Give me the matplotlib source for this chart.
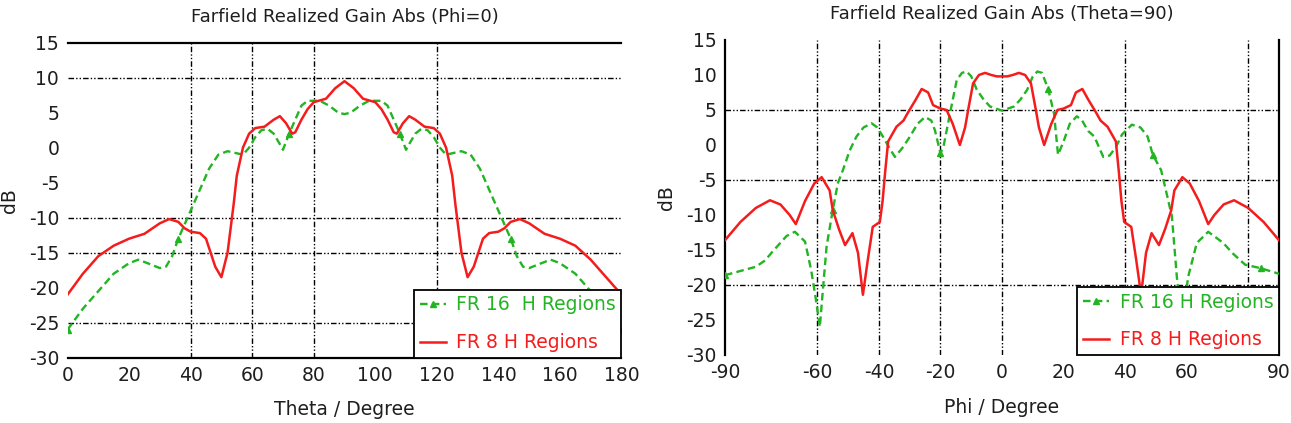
"""Farfield realized gain cuts: FR 16 vs FR 8 H regions (Phi=0 and Theta=90)."""

import numpy as np
import matplotlib

matplotlib.use("Agg")
import matplotlib.pyplot as plt  # noqa: E402

plt.rcParams["axes.unicode_minus"] = False

GREEN = "#22b422"
RED = "#f41c1c"
TEXT = "#1e1e1e"
GRID_DASH = (0, (4, 1.5, 1, 1.5, 1, 1.5))

# --- Phi=0 cut (theta sweep) ---
theta_fr16 = [0, 5, 10, 15, 20, 23, 26, 30, 32, 34, 36, 38, 40, 43, 46, 49, 52,
              55, 57, 59, 61, 63, 65, 67, 69, 70, 72, 74, 76, 78, 82, 85, 88, 90,
              92, 95, 98, 102, 104, 106, 108, 110, 111, 113, 115, 117, 119, 121,
              123, 125, 128, 131, 134, 137, 140, 142, 144, 146, 148, 150, 154,
              157, 160, 165, 170, 175, 180]
gain_fr16_phi0 = [-26, -23, -20.5, -18, -16.5, -16, -16.5, -17.2, -17, -15.5,
                  -13, -11, -9, -6, -3, -1, -0.5, -0.8, -1, 0, 1.5, 2.5, 2.7, 2,
                  0.5, -0.3, 2, 4, 6, 6.7, 6.7, 6, 5, 4.8,
                  5, 6, 6.7, 6.7, 6, 4, 2, -0.3, 0.5, 2, 2.7, 2.5, 1.5, 0,
                  -1, -0.8, -0.5, -1, -3, -6, -9, -11, -13, -15.5, -17, -17.2,
                  -16.5, -16, -16.5, -18, -20.5, -23, -26]
theta_fr16_markers = [0, 36, 72, 108, 144, 180]

theta_fr8 = [0, 5, 10, 15, 20, 25, 30, 33, 36, 38, 40, 43, 45, 48, 50, 52, 54,
             55, 57, 59, 61, 64, 67, 69, 71, 73, 74, 76, 78, 80, 84, 87, 90,
             93, 96, 100, 102, 104, 106, 107, 109, 111, 113, 116, 119, 121, 123,
             125, 126, 128, 130, 132, 135, 137, 140, 142, 144, 147, 150, 155,
             160, 165, 170, 175, 180]
gain_fr8_phi0 = [-21, -18, -15.5, -14, -13, -12.3, -10.8, -10.2, -10.6, -11.5,
                 -12, -12.2, -13, -17, -18.5, -15, -8, -4, 0, 2, 2.8, 3, 4, 4.5,
                 3.5, 2, 2.2, 4, 5.5, 6.5, 7, 8.5, 9.5,
                 8.5, 7, 6.5, 5.5, 4, 2.2, 2, 3.5, 4.5, 4, 3, 2.8, 2, 0,
                 -4, -8, -15, -18.5, -17, -13, -12.2, -12, -11.5, -10.6, -10.2,
                 -10.8, -12.3, -13, -14, -16, -18.5, -21]

# --- Theta=90 cut (phi sweep) ---
phi_fr16 = [-90, -85, -80, -77, -74.5, -70, -67.3, -64, -62, -60.5, -59.2,
            -58.2, -57, -55, -53.3, -51.7, -49.5, -47.3, -45, -42.4, -40.5,
            -38.7, -36.5, -34.8, -32.5, -29.9, -27.5, -25, -23, -21.8, -20,
            -19, -16.9, -14.7, -13, -11.5, -10, -8.2, -6, -3.9, 0,
            3.9, 6, 8.2, 10, 11.5, 13, 15, 16.9, 18.2, 20, 22, 24.3, 26, 28,
            30, 32.9, 35, 37, 39, 42.2, 45, 47.3, 49, 51.7, 53, 55.2, 56.8,
            58.5, 59.5, 60.5, 63.3, 67, 71.9, 75, 79, 84, 90]
gain_fr16_th90 = [-18.6, -18, -17.4, -16.5, -15.2, -13, -12.4, -13.8, -17.9,
                  -22, -26, -20.7, -14.5, -9.3, -5.4, -3.6, -0.8, 1.2, 2.5,
                  3.1, 2.5, 1.2, -0.5, -1.7, -0.5, 1.2, 3, 4, 3.5, 2.1, -1.2,
                  -0.2, 4.5, 9.3, 10.3, 10.5, 9.8, 7.9, 6.5, 5.5, 4.9,
                  5.5, 6.5, 7.9, 9.8, 10.5, 10.3, 8, 4.5, -1.4, 0.5, 3, 4.1,
                  3.5, 2, 1.2, -1.7, -1.5, -0.3, 1.5, 2.9, 2.5, 1.2, -1.4,
                  -3.6, -6, -10.2, -18.8, -26, -22, -18.8, -14, -12.4, -14,
                  -15.5, -17.1, -17.6, -18.4]
phi_fr16_markers = [-90, -55, -20, 15, 49, 84]

phi_fr8 = [-90, -85, -80, -75.4, -72, -69, -67, -64, -61, -58.6, -56, -55,
           -53, -51, -48.6, -46.8, -45.2, -43.6, -42, -39.7, -38.8, -38, -37,
           -34.3, -32, -30.6, -28, -26.1, -24, -22.4, -20, -18, -16, -13.7,
           -12, -11, -9.4, -7.5, -5.5, -3.5, -1.7, 0,
           1.7, 3.5, 5.5, 7.5, 9.4, 11, 12, 13.7, 16, 18, 20, 22.4, 24, 26.1,
           28, 30.6, 32, 34.3, 37, 38, 38.8, 39.7, 42, 43.6, 45.2, 46.8, 48.6,
           51, 53, 55, 56, 58.6, 61, 64, 67, 69, 72, 75.4, 80, 85, 90]
gain_fr8_th90 = [-13.6, -11, -9, -7.9, -8.5, -10, -11.3, -8, -5.5, -4.6, -6.5,
                 -9.3, -12, -14.3, -12.6, -15.4, -21.4, -16.4, -11.7, -11, -8,
                 -4, 0.5, 2.6, 3.5, 4.6, 6.5, 8, 7.5, 5.7, 5.2, 5, 3, 0, 2.5,
                 5, 8.8, 10, 10.3, 10, 9.8, 9.8,
                 9.8, 10, 10.3, 10, 8.8, 5, 2.5, 0, 3, 5, 5.2, 5.7, 7.5, 8,
                 6.5, 4.6, 3.5, 2.6, 0.5, -4, -8, -11, -11.7, -16.4, -21.4,
                 -15.4, -12.6, -14.3, -12, -9.3, -6.5, -4.6, -5.5, -8, -11.3,
                 -10, -8.5, -7.9, -9, -11, -13.6]

YTICKS = list(range(-30, 16, 5))
THETA_TICKS = list(range(0, 181, 20))
PHI_TICKS = [-90, -60, -40, -20, 0, 20, 40, 60, 90]
# only some grid lines survived in the original screenshot
THETA_VGRID = [40, 60, 80, 120]
THETA_HGRID = [10, -10, -15, -25]
PHI_VGRID = [-60, -40, -20, 0, 40, 80]
PHI_HGRID = [5, -5, -20]


def draw(ax, x16, y16, marks16, x8, y8, label16, xticks, xlim, vgrid, hgrid,
         title, xlabel, spines_on):
    for v in vgrid:
        ax.axvline(v, color="black", lw=1, ls=GRID_DASH, zorder=1)
    for h in hgrid:
        ax.axhline(h, color="black", lw=1, ls=GRID_DASH, zorder=1)
    idx = [int(np.argmin(np.abs(np.array(x16) - m))) for m in marks16]
    ax.plot(x16, y16, color=GREEN, lw=1.7, ls=(0, (3.2, 1.8)), marker="^",
            ms=4.5, markevery=idx, label=label16, zorder=3)
    ax.plot(x8, y8, color=RED, lw=1.8, label="FR 8 H Regions", zorder=4)
    ax.set_xlim(*xlim)
    ax.set_ylim(-30, 15)
    ax.set_xticks(xticks)
    ax.set_yticks(YTICKS)
    ax.tick_params(length=0, labelsize=13.5, labelcolor=TEXT, pad=6)
    for name, sp in ax.spines.items():
        sp.set_visible(name in spines_on)
        sp.set_linewidth(1.6)
    ax.set_title(title, fontsize=13, color=TEXT, pad=15)
    ax.set_xlabel(xlabel, fontsize=13.5, color=TEXT, labelpad=11)
    ax.set_ylabel("dB", fontsize=13.5, color=TEXT)
    ax.yaxis.set_label_coords(-0.088, 0.5)
    leg = ax.legend(loc="lower right", bbox_to_anchor=(1.0, 0.0), fontsize=13.5,
                    frameon=True, fancybox=False, framealpha=1,
                    edgecolor="black", borderaxespad=0, handlelength=1.4,
                    borderpad=0.3, labelspacing=1.0, handletextpad=0.55)
    leg.get_frame().set_linewidth(1.3)
    for txt, col in zip(leg.get_texts(), [GREEN, RED]):
        txt.set_color(col)


fig = plt.figure(figsize=(12.91, 4.23), dpi=100)
ax1 = fig.add_axes([0.0523, 0.1544, 0.4291, 0.7447])
ax2 = fig.add_axes([0.5616, 0.1608, 0.4291, 0.7447])

draw(ax1, theta_fr16, gain_fr16_phi0, theta_fr16_markers, theta_fr8,
     gain_fr8_phi0, "FR 16  H Regions", THETA_TICKS, (0, 180), THETA_VGRID,
     THETA_HGRID, "Farfield Realized Gain Abs (Phi=0)", "Theta / Degree",
     ("top", "bottom"))
draw(ax2, phi_fr16, gain_fr16_th90, phi_fr16_markers, phi_fr8, gain_fr8_th90,
     "FR 16 H Regions", PHI_TICKS, (-90, 90), PHI_VGRID, PHI_HGRID,
     "Farfield Realized Gain Abs (Theta=90)", "Phi / Degree",
     ("left", "right"))

fig.savefig("out.png", dpi=100)
